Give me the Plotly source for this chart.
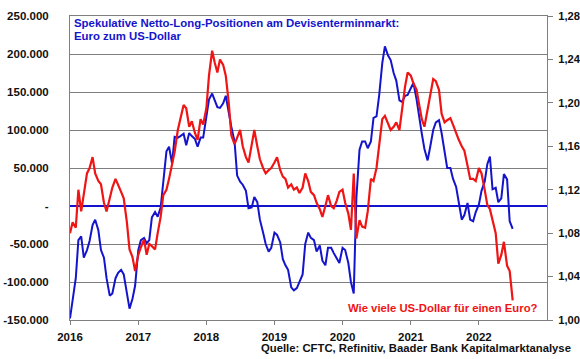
import pandas as pd
import plotly.graph_objects as go

# Semi-monthly observation dates (1st and 15th of each month), Jan 2016 - Jul 2022
dates = pd.date_range("2016-01-01", periods=157, freq="SMS")

# Speculative net long positions EUR (contracts) (thousands)
net_long_k = [
    -148, -125, -95, -45, -40, -68, -58, -46, -25, -18, -32, -58, -68, -95, -118, -115,
    -95, -88, -84, -90, -115, -135, -122, -105,
    -58, -45, -42, -49, -45, -15, -8, -14, -2, 35, 72, 78, 56, 91, 90, 92, 95, 80, 96, 92,
    88, 78, 90, 90,
    117, 140, 148, 138, 130, 129, 135, 145, 120, 104, 85, 40, 32, 28, 20, -3, -2, 12, 5,
    -18, -35, -50, -60, -55,
    -35, -38, -48, -70, -78, -84, -107, -111, -108, -100, -90, -50, -35, -42, -45, -60,
    -52, -72, -78, -55, -55, -62, -68, -75,
    -55, -58, -75, -100, -115, 10, 74, 85, 85, 76, 85, 116, 118, 145, 188, 210, 198, 192,
    175, 165, 139, 137, 145, 146,
    155, 162, 140, 115, 95, 75, 60, 78, 100, 110, 113, 96, 68, 50, 50, 36, 25, 5, -18,
    -12, 4, -18, -20, -8,
    2, 20, 32, 55, 65, 22, 24, 5, 10, 42, 35, -20, -30,
]
net_long = [v * 1000 for v in net_long_k]

# EUR/USD exchange rate
eurusd = [
    1.080, 1.090, 1.085, 1.120, 1.100, 1.115, 1.135, 1.140, 1.150, 1.135, 1.128, 1.125,
    1.108, 1.100, 1.112, 1.122, 1.130, 1.125, 1.118, 1.112, 1.090, 1.065, 1.058, 1.045,
    1.060, 1.067, 1.074, 1.060, 1.070, 1.068, 1.065, 1.080, 1.095, 1.115, 1.120, 1.130,
    1.145, 1.155, 1.175, 1.185, 1.198, 1.195, 1.178, 1.183, 1.172, 1.166, 1.185, 1.180,
    1.195, 1.225, 1.248, 1.237, 1.228, 1.240, 1.235, 1.225, 1.200, 1.170, 1.162, 1.168,
    1.175, 1.160, 1.150, 1.145, 1.162, 1.175, 1.160, 1.148, 1.140, 1.135, 1.138, 1.140,
    1.145, 1.150, 1.138, 1.132, 1.130, 1.122, 1.125, 1.120, 1.122, 1.117, 1.122, 1.135,
    1.128, 1.118, 1.115, 1.108, 1.102, 1.095, 1.105, 1.115, 1.105, 1.103, 1.110, 1.118,
    1.120, 1.108, 1.098, 1.083, 1.135, 1.075, 1.092, 1.086, 1.085, 1.100, 1.130, 1.128,
    1.140, 1.160, 1.185, 1.188, 1.180, 1.175, 1.178, 1.182, 1.175, 1.195, 1.215, 1.228,
    1.225, 1.218, 1.212, 1.198, 1.185, 1.178, 1.195, 1.209, 1.222, 1.220, 1.212, 1.190,
    1.182, 1.184, 1.186, 1.180, 1.172, 1.166, 1.160, 1.156, 1.142, 1.130, 1.130, 1.128,
    1.140, 1.135, 1.120, 1.106, 1.102, 1.093, 1.080, 1.052, 1.060, 1.072, 1.050, 1.045,
    1.018,
]

left_tickvals = [-150000, -100000, -50000, 0, 50000, 100000, 150000, 200000, 250000]
left_ticktext = ["-150.000", "-100.000", "-50.000", "-", "50.000", "100.000",
                 "150.000", "200.000", "250.000"]
right_tickvals = [1.00, 1.04, 1.08, 1.12, 1.16, 1.20, 1.24, 1.28]
right_ticktext = ["1,00", "1,04", "1,08", "1,12", "1,16", "1,20", "1,24", "1,28"]
year_ticks = ["2016-01-01", "2017-01-01", "2018-01-01", "2019-01-01",
              "2020-01-01", "2021-01-01", "2022-01-01"]
year_labels = ["2016", "2017", "2018", "2019", "2020", "2021", "2022"]

BLUE = "#1414CC"
RED = "#F01414"
GRID = "#7F7F7F"
FONT = "Liberation Sans, Arial, sans-serif"
TF = dict(family=FONT, size=11.5, weight="bold", color="#111111")

fig = go.Figure()
fig.add_trace(go.Scatter(x=dates, y=net_long, mode="lines", yaxis="y",
                         line=dict(color=BLUE, width=2), showlegend=False))
fig.add_trace(go.Scatter(x=dates, y=eurusd, mode="lines", yaxis="y2",
                         line=dict(color=RED, width=2.2), showlegend=False))

fig.update_layout(
    width=580, height=359,
    margin=dict(l=70, r=33, t=16, b=39, autoexpand=False),
    paper_bgcolor="white", plot_bgcolor="white",
    font=dict(family=FONT, size=12, color="#111111"),
    xaxis=dict(
        type="date", range=["2016-01-01", "2023-01-01"], automargin=False,
        tickvals=year_ticks, ticktext=year_labels,
        showgrid=False, showline=True, linecolor=GRID, linewidth=1, mirror=True,
        ticks="outside", ticklen=4, tickcolor=GRID, ticklabelstandoff=2,
        tickfont=TF, zeroline=False,
    ),
    yaxis=dict(
        range=[-150000, 250000], tickvals=left_tickvals, ticktext=left_ticktext,
        automargin=False,
        showgrid=True, gridcolor=GRID, gridwidth=1,
        showline=True, linecolor=GRID, linewidth=1,
        zeroline=True, zerolinecolor=BLUE, zerolinewidth=2,
        ticks="", ticklabelstandoff=18, tickfont=TF,
    ),
    yaxis2=dict(
        range=[1.00, 1.28], tickvals=right_tickvals, ticktext=right_ticktext,
        automargin=False,
        overlaying="y", side="right", showgrid=False, zeroline=False,
        showline=True, linecolor=GRID, linewidth=1,
        ticks="outside", ticklen=5, tickcolor=GRID, ticklabelstandoff=3,
        tickfont=dict(family=FONT, size=11.2, weight="bold", color="#111111"),
    ),
    annotations=[
        dict(text="Spekulative Netto-Long-Positionen am Devisenterminmarkt:",
             xref="paper", yref="paper", x=0.004, y=0.977, xanchor="left", yanchor="middle",
             showarrow=False, font=dict(family=FONT, size=11.4, weight="bold", color=BLUE)),
        dict(text="Euro zum US-Dollar",
             xref="paper", yref="paper", x=0.004, y=0.934, xanchor="left", yanchor="middle",
             showarrow=False, font=dict(family=FONT, size=11.4, weight="bold", color=BLUE)),
        dict(text="Wie viele US-Dollar für einen Euro?",
             xref="paper", yref="paper", x=0.985, y=0.0395, xanchor="right", yanchor="middle",
             showarrow=False, font=dict(family=FONT, size=11.3, weight="bold", color=RED)),
        dict(text="Quelle: CFTC, Refinitiv, Baader Bank Kapitalmarktanalyse",
             xref="paper", yref="paper", x=1.0545, y=-0.092, xanchor="right", yanchor="middle",
             showarrow=False, font=dict(family=FONT, size=11.3, weight="bold", color="#111111")),
    ],
)

# Remove the default page margin so the figure sits at the window's top-left corner
fig.write_html("out.html", config={"displayModeBar": False},
               post_script="document.body.style.margin='0';")
